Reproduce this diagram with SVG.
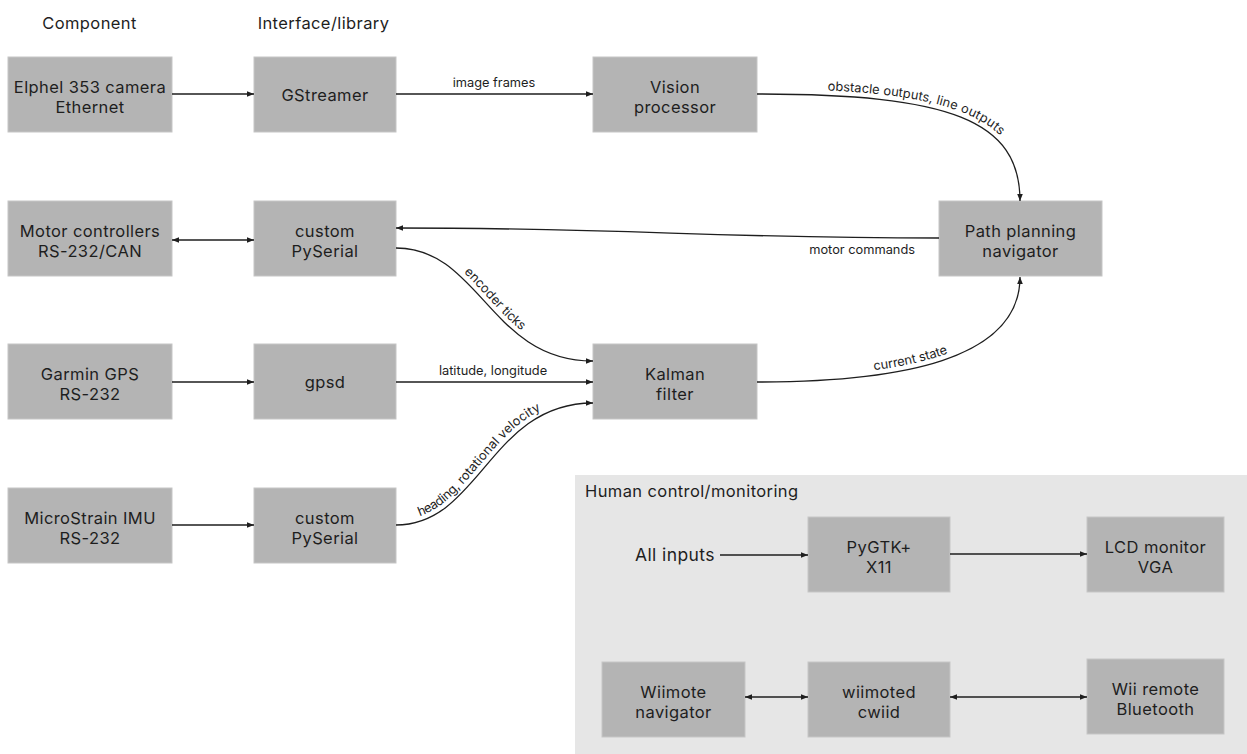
<svg xmlns="http://www.w3.org/2000/svg" width="1247" height="754" viewBox="0 0 1247 754">
<defs>
<style>
.box{fill:#b4b4b4;stroke:#c6c6c6;stroke-width:1}
.t{font-family:Inter,"Open Sans","Liberation Sans",sans-serif;font-size:16.5px;letter-spacing:0.4px;fill:#1e1e1e;text-anchor:middle}
.h{font-family:Inter,"Open Sans","Liberation Sans",sans-serif;font-size:16.5px;letter-spacing:0.4px;fill:#1e1e1e}
.l{font-family:Inter,"Open Sans","Liberation Sans",sans-serif;font-size:12.8px;fill:#1e1e1e}
.c{fill:none;stroke:#1e1e1e;stroke-width:1.3}
</style>
<marker id="a" viewBox="0 0 10 10" refX="10" refY="5" markerUnits="userSpaceOnUse" markerWidth="9" markerHeight="7" orient="auto-start-reverse">
<path d="M0,1 L10,5 L0,9 z" fill="#1e1e1e"/>
</marker>
</defs>
<rect width="1247" height="754" fill="#ffffff"/>
<g id="headers">
<text class="t" x="89.5" y="29">Component</text>
<text class="t" x="323.5" y="29">Interface/library</text>
</g>
<g id="panel">
<rect x="575" y="475" width="672" height="279" fill="#e6e6e6"/>
<text class="h" x="585" y="497">Human control/monitoring</text>
</g>
<g id="elphel"><rect class="box" x="8" y="57" width="164" height="75"/><text class="t" x="90" y="92.5">Elphel 353 camera</text><text class="t" x="90" y="113">Ethernet</text></g>
<g id="gstreamer"><rect class="box" x="254" y="57" width="142" height="75"/><text class="t" x="325" y="101">GStreamer</text></g>
<g id="vision"><rect class="box" x="593" y="57" width="164" height="75"/><text class="t" x="675" y="92.5">Vision</text><text class="t" x="675" y="113">processor</text></g>
<g id="motor"><rect class="box" x="8" y="201" width="164" height="75"/><text class="t" x="90" y="236.5">Motor controllers</text><text class="t" x="90" y="257">RS-232/CAN</text></g>
<g id="pyserial1"><rect class="box" x="254" y="201" width="142" height="75"/><text class="t" x="325" y="236.5">custom</text><text class="t" x="325" y="257">PySerial</text></g>
<g id="pathplanning"><rect class="box" x="939" y="201" width="163" height="75"/><text class="t" x="1020.5" y="236.5">Path planning</text><text class="t" x="1020.5" y="257">navigator</text></g>
<g id="garmin"><rect class="box" x="8" y="344" width="164" height="75"/><text class="t" x="90" y="379.5">Garmin GPS</text><text class="t" x="90" y="400">RS-232</text></g>
<g id="gpsd"><rect class="box" x="254" y="344" width="142" height="75"/><text class="t" x="325" y="388">gpsd</text></g>
<g id="kalman"><rect class="box" x="593" y="344" width="164" height="75"/><text class="t" x="675" y="379.5">Kalman</text><text class="t" x="675" y="400">filter</text></g>
<g id="imu"><rect class="box" x="8" y="488" width="164" height="75"/><text class="t" x="90" y="523.5">MicroStrain IMU</text><text class="t" x="90" y="544">RS-232</text></g>
<g id="pyserial2"><rect class="box" x="254" y="488" width="142" height="75"/><text class="t" x="325" y="523.5">custom</text><text class="t" x="325" y="544">PySerial</text></g>
<g id="allinputs"><text class="h" x="635" y="561" style="font-size:17.5px">All inputs</text></g>
<g id="pygtk"><rect class="box" x="808" y="517" width="142" height="75"/><text class="t" x="879" y="552.5">PyGTK+</text><text class="t" x="879" y="573">X11</text></g>
<g id="lcd"><rect class="box" x="1087" y="517" width="137" height="75"/><text class="t" x="1155.5" y="552.5">LCD monitor</text><text class="t" x="1155.5" y="573">VGA</text></g>
<g id="wiinav"><rect class="box" x="602" y="662" width="143" height="75"/><text class="t" x="673.5" y="697.5">Wiimote</text><text class="t" x="673.5" y="718">navigator</text></g>
<g id="wiimoted"><rect class="box" x="808" y="662" width="142" height="75"/><text class="t" x="879" y="697.5">wiimoted</text><text class="t" x="879" y="718">cwiid</text></g>
<g id="wiiremote"><rect class="box" x="1087" y="659" width="137" height="75"/><text class="t" x="1155.5" y="694.5">Wii remote</text><text class="t" x="1155.5" y="715">Bluetooth</text></g>
<g id="connectors">
<path class="c" d="M172,94 L254,94" marker-end="url(#a)"/>
<path class="c" d="M396,94 L593,94" marker-end="url(#a)"/>
<path id="p-obst" class="c" d="M757,94 C950,94 1020,120 1020,201" marker-end="url(#a)"/>
<path class="c" d="M172,240 L254,240" marker-start="url(#a)" marker-end="url(#a)"/>
<path class="c" d="M939,238 C700,238 640,228 396,228" marker-end="url(#a)"/>
<path id="p-enc" class="c" d="M396,248 C480,248 490,361 593,361" marker-end="url(#a)"/>
<path class="c" d="M172,382 L254,382" marker-end="url(#a)"/>
<path class="c" d="M396,382 L593,382" marker-end="url(#a)"/>
<path id="p-state" class="c" d="M757,382 C900,382 1020,360 1020,277" marker-end="url(#a)"/>
<path class="c" d="M172,525 L254,525" marker-end="url(#a)"/>
<path id="p-head" class="c" d="M396,525 C480,525 490,403 593,403" marker-end="url(#a)"/>
<path class="c" d="M720,555 L808,555" marker-end="url(#a)"/>
<path class="c" d="M950,554 L1087,554" marker-end="url(#a)"/>
<path class="c" d="M745,697 L808,697" marker-start="url(#a)" marker-end="url(#a)"/>
<path class="c" d="M950,697 L1087,697" marker-start="url(#a)" marker-end="url(#a)"/>
<text class="l" x="494" y="87" text-anchor="middle">image frames</text>
<text class="l" x="915" y="254" text-anchor="end">motor commands</text>
<text class="l" x="493" y="375" text-anchor="middle">latitude, longitude</text>
<text class="l" dy="-5"><textPath href="#p-obst" startOffset="70">obstacle outputs, line outputs</textPath></text>
<text class="l" dy="-5"><textPath href="#p-enc" startOffset="72">encoder ticks</textPath></text>
<text class="l" dy="-5"><textPath href="#p-state" startOffset="118">current state</textPath></text>
<text class="l" dy="-5"><textPath href="#p-head" startOffset="26">heading, rotational velocity</textPath></text>
</g>
</svg>
